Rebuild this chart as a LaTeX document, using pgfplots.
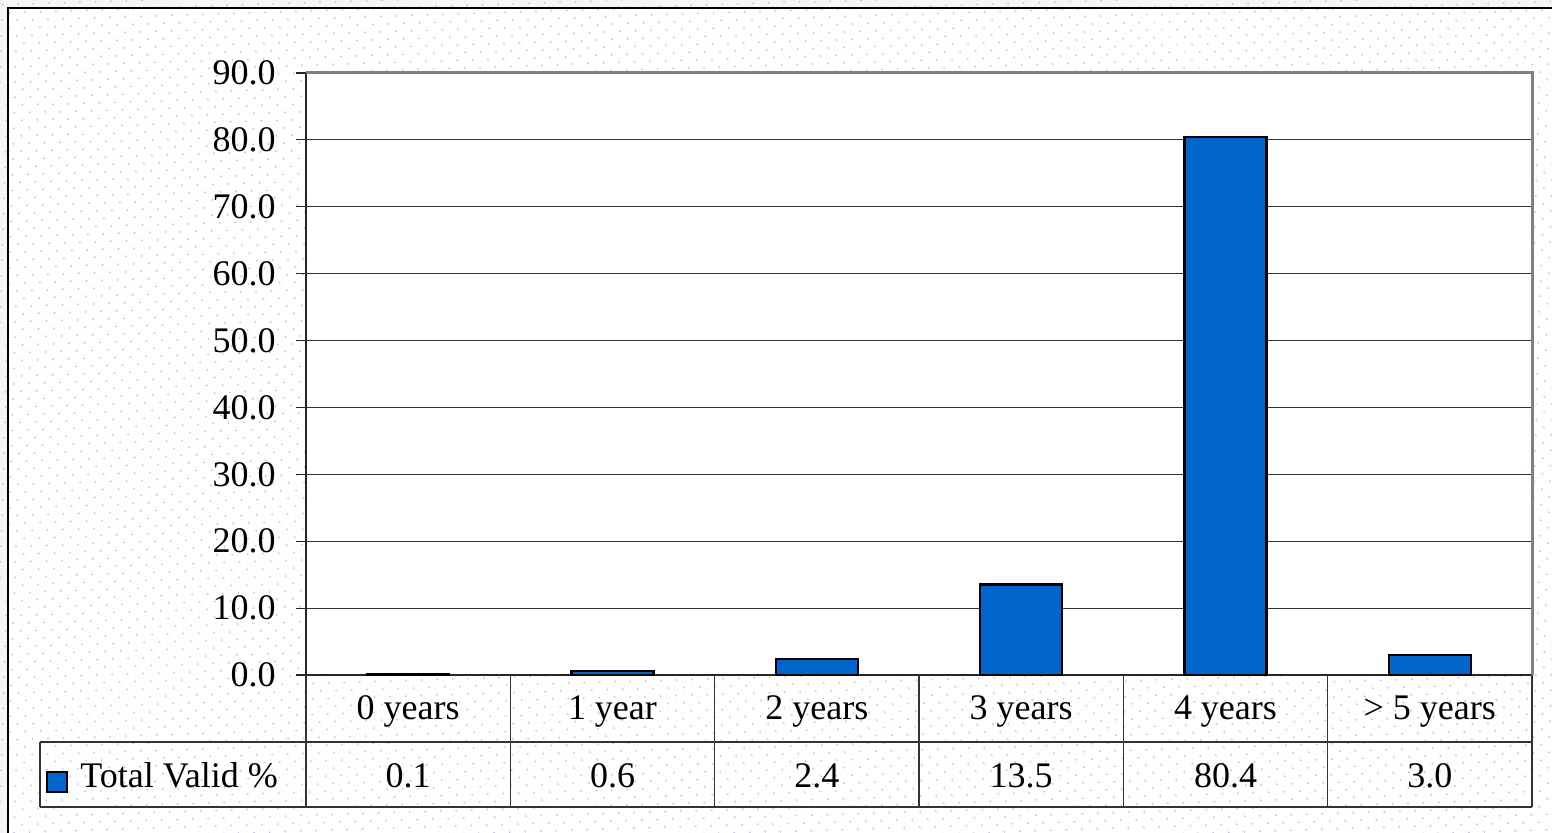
\documentclass[border=0pt]{standalone}
\usepackage{fontspec}
\setmainfont{Liberation Serif}
\usepackage{pgfplots}
\pgfplotsset{compat=1.18}
\usetikzlibrary{patterns.meta}
\definecolor{barblue}{RGB}{0,102,204}
\definecolor{dotblue}{RGB}{190,190,245}
\definecolor{dotgray}{RGB}{195,195,195}
\definecolor{outbg}{RGB}{245,245,245}

\begin{document}
\fontsize{18}{21}\selectfont
\begin{tikzpicture}[x=1pt,y=1pt]
\useasboundingbox (0,0) rectangle (776,416.5);
% page outside the chart frame
\fill[outbg] (0,0) rectangle (776,416.5);
\fill[pattern={Dots[distance=5.4pt,radius=0.55pt,angle=45]}, pattern color=dotgray] (0,0) rectangle (776,416.5);
% chart area
\fill[white] (4,-5) rectangle (781,412.5);
\fill[pattern={Dots[distance=5.4pt,radius=0.55pt,angle=45]}, pattern color=dotblue] (4,-5) rectangle (781,412.5);
\draw[black, line width=0.8pt] (4,-5) -- (4,412.5) -- (781,412.5);

\begin{axis}[
    at={(153pt,79pt)}, anchor=south west,
    scale only axis, width=613pt, height=301pt,
    xmin=-0.5, xmax=5.5, ymin=0, ymax=90,
    ybar, bar width=41pt,
    axis x line*=bottom, axis y line*=left,
    axis line style={black!85, line width=0.9pt},
    axis background/.style={fill=white},
    ytick={0,10,...,90},
    ymajorgrids, grid style={black!80, line width=0.6pt},
    tick align=outside, major tick length=5pt,
    ytick style={black!85, line width=0.6pt},
    /pgf/number format/fixed,
    /pgf/number format/fixed zerofill,
    /pgf/number format/precision=1,
    /pgf/number format/assume math mode=true,
    yticklabel style={xshift=-4pt},
    xtick={0,...,5},
    xticklabels={0 years,1 year,2 years,3 years,4 years,> 5 years},
    xtick style={draw=none},
    xticklabel style={anchor=base, yshift=-17.5pt},
    clip=false,
]
\addplot[fill=barblue, draw=black, line width=1.2pt] coordinates {
    (0,0.1) (1,0.6) (2,2.4) (3,13.5) (4,80.4) (5,3.0)
};
\draw[black!50, line width=1.5pt] (rel axis cs:0,1) -- (rel axis cs:1,1) -- (rel axis cs:1,0);
\end{axis}

% data table under the axis
\draw[black!80, line width=0.6pt] (20,45.5) -- (766,45.5) (20,13) -- (766,13) (20,13) -- (20,45.5);
\foreach \k in {0,...,6} \draw[black!80, line width=0.6pt] (153+\k*102.1667,79) -- (153+\k*102.1667,13);
\foreach \v [count=\k from 0] in {0.1,0.6,2.4,13.5,80.4,3.0}
    \node[anchor=base] at (204.08+\k*102.1667,22.5) {\v};
\filldraw[fill=barblue, draw=black, line width=1.2pt] (23.5,20.5) rectangle (33.5,30.5);
\node[anchor=base west, inner sep=0pt] at (40,22.5) {Total Valid \%};
\end{tikzpicture}
\end{document}
